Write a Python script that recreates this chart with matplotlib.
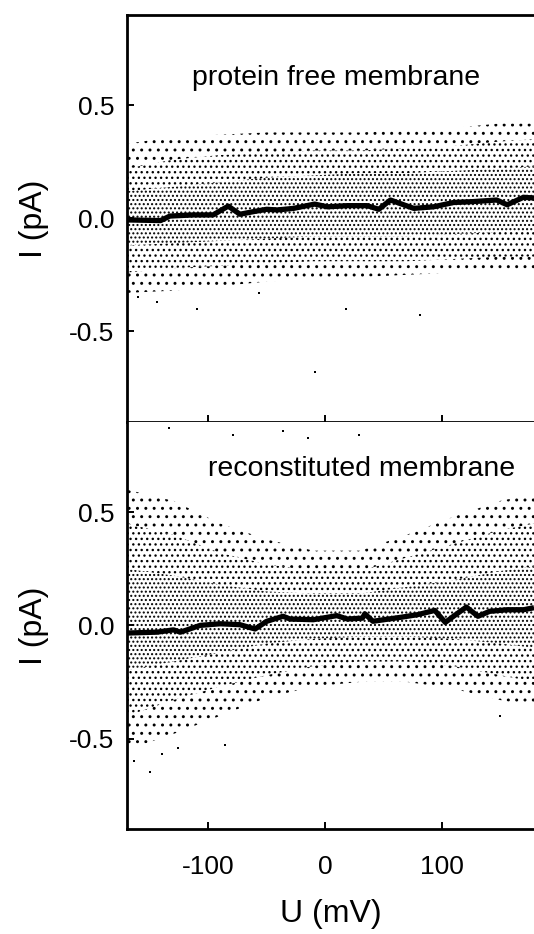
import matplotlib
matplotlib.use("Agg")
import matplotlib.pyplot as plt
import numpy as np

plt.rcParams['font.family'] = ['Liberation Sans', 'DejaVu Sans']
plt.rcParams['axes.unicode_minus'] = False
plt.rcParams['hatch.linewidth'] = 0.95

# ---------------- data ----------------
# running mean lines
top_mean_x = [-170, -141, -133, -113, -96, -83, -73, -61, -50, -41, -27, -9, 2, 19, 36, 46, 56,
              64, 76, 93, 110, 127, 147, 156, 170, 179]
top_mean_y = [-0.007, -0.01, 0.01, 0.015, 0.015, 0.054, 0.018, 0.03, 0.04, 0.037, 0.044, 0.063,
              0.051, 0.056, 0.056, 0.04, 0.081, 0.066, 0.044, 0.051, 0.07, 0.074, 0.081, 0.06,
              0.093, 0.09]
bot_mean_x = [-170, -144, -130, -124, -107, -90, -73, -60, -50, -36, -30, -10, 10, 19, 32, 34, 41,
              64, 79, 94, 103, 110, 121, 131, 141, 156, 170, 179]
bot_mean_y = [-0.034, -0.03, -0.02, -0.03, 0.0, 0.007, 0.003, -0.016, 0.018, 0.04, 0.028, 0.025,
              0.043, 0.028, 0.032, 0.051, 0.018, 0.035, 0.047, 0.066, 0.013, 0.04, 0.081, 0.04,
              0.062, 0.069, 0.069, 0.078]

# envelopes of the scatter cloud (outer / middle / inner bands)
env_x = [-170, -130, -90, -50, -10, 30, 70, 110, 150, 179]
top_outer_hi = [0.33, 0.36, 0.37, 0.38, 0.38, 0.38, 0.39, 0.40, 0.42, 0.42]
top_mid_hi = [0.22, 0.26, 0.28, 0.29, 0.30, 0.30, 0.31, 0.32, 0.34, 0.35]
top_in_hi = [0.12, 0.14, 0.16, 0.18, 0.19, 0.20, 0.20, 0.21, 0.22, 0.23]
top_in_lo = [-0.12, -0.11, -0.10, -0.09, -0.08, -0.08, -0.08, -0.07, -0.06, -0.06]
top_mid_lo = [-0.24, -0.22, -0.21, -0.20, -0.19, -0.19, -0.19, -0.18, -0.17, -0.17]
top_outer_lo = [-0.33, -0.32, -0.30, -0.28, -0.27, -0.26, -0.25, -0.24, -0.24, -0.24]

bot_outer_hi = [0.60, 0.55, 0.45, 0.38, 0.33, 0.33, 0.40, 0.48, 0.55, 0.58]
bot_mid_hi = [0.45, 0.40, 0.32, 0.27, 0.24, 0.24, 0.30, 0.36, 0.42, 0.45]
bot_in_hi = [0.25, 0.22, 0.18, 0.15, 0.14, 0.14, 0.17, 0.20, 0.24, 0.26]
bot_in_lo = [-0.20, -0.16, -0.12, -0.08, -0.06, -0.05, -0.05, -0.06, -0.08, -0.10]
bot_mid_lo = [-0.40, -0.33, -0.27, -0.22, -0.18, -0.16, -0.16, -0.18, -0.22, -0.25]
bot_outer_lo = [-0.55, -0.48, -0.40, -0.32, -0.27, -0.25, -0.25, -0.28, -0.33, -0.36]

# isolated outlier points
top_out_x = [-9, -110, -144, -160, -57, 18, 81]
top_out_y = [-0.68, -0.40, -0.37, -0.35, -0.33, -0.40, -0.43]
bot_out_x = [-134, -79, -36, 29, -15, -150, -140, -86, -126, -164, 150]
bot_out_y = [0.87, 0.84, 0.86, 0.84, 0.83, -0.65, -0.57, -0.53, -0.54, -0.60, -0.40]

x_ticks = [-100, 0, 100]
y_ticks = [-0.5, 0.0, 0.5]
y_ticklabels = ['-0.5', '0.0', '0.5']
labels = ['protein free membrane', 'reconstituted membrane']

# ---------------- figure ----------------
fig = plt.figure(figsize=(5.34, 9.34), dpi=100)
left, width = 0.2373, 0.7627
ax1 = fig.add_axes([left, 0.5485, width, 0.4355])
ax2 = fig.add_axes([left, 0.1124, width, 0.4361], sharex=ax1)


def band(ax, hi_a, hi_b, lo_a, lo_b, hatch):
    kw = dict(facecolor='none', edgecolor='black', linewidth=0, hatch=hatch)
    ax.fill_between(env_x, hi_a, hi_b, **kw)
    ax.fill_between(env_x, lo_a, lo_b, **kw)


def draw_panel(ax, mx, my, ohi, mhi, ihi, ilo, mlo, olo, ox, oy, label, ly):
    # non-overlapping density bands of the point cloud
    band(ax, ohi, mhi, mlo, olo, '..')
    band(ax, mhi, ihi, ilo, mlo, '...')
    ax.fill_between(env_x, ihi, ilo, facecolor='none', edgecolor='black', linewidth=0,
                    hatch='....')
    ax.scatter(ox, oy, s=3, c='black', marker='s', linewidths=0)
    ax.plot(mx, my, color='black', lw=3.8, solid_capstyle='butt')
    ax.set_xlim(-170, 179)
    ax.set_ylim(-0.9, 0.9)
    ax.set_yticks(y_ticks)
    ax.set_yticklabels(y_ticklabels)
    ax.set_xticks(x_ticks)
    ax.tick_params(direction='in', length=5, width=1.4, labelsize=19)
    ax.tick_params(axis='y', pad=9)
    ax.spines['right'].set_visible(False)
    for s in ['left', 'top', 'bottom']:
        ax.spines[s].set_linewidth(2.0)
    ax.set_ylabel('I (pA)', fontsize=23)
    ax.yaxis.set_label_coords(-0.19, 0.5)
    ax.text(label[1], ly, label[0], fontsize=20.5, ha='center', va='center')


draw_panel(ax1, top_mean_x, top_mean_y, top_outer_hi, top_mid_hi, top_in_hi, top_in_lo,
           top_mid_lo, top_outer_lo, top_out_x, top_out_y, (labels[0], 9), 0.62)
draw_panel(ax2, bot_mean_x, bot_mean_y, bot_outer_hi, bot_mid_hi, bot_in_hi, bot_in_lo,
           bot_mid_lo, bot_outer_lo, bot_out_x, bot_out_y, (labels[1], 31), 0.69)

ax1.tick_params(axis='x', labelbottom=False)
ax2.tick_params(axis='x', top=False, pad=19)
ax2.spines['top'].set_visible(False)
ax2.set_xlabel('U (mV)', fontsize=23, labelpad=14)

fig.savefig('out.png', dpi=100)
